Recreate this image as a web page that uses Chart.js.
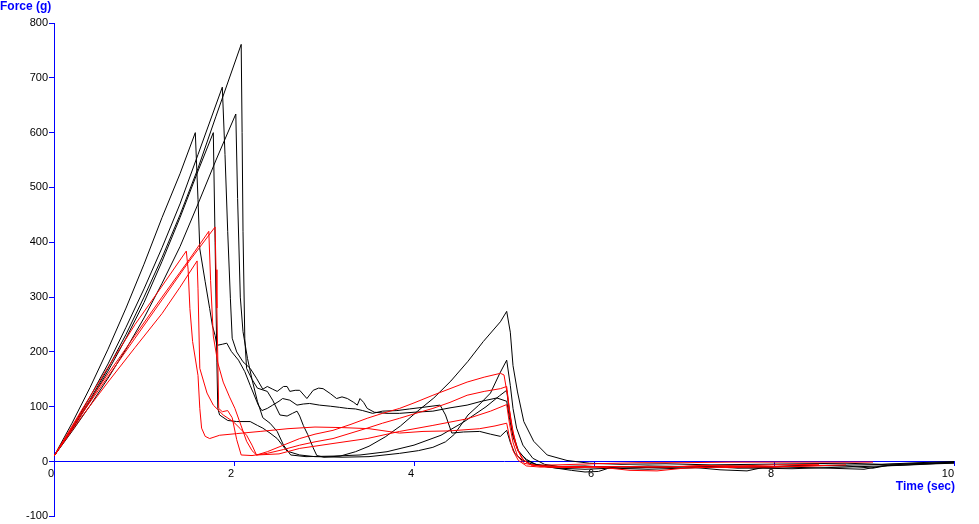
<!DOCTYPE html>
<html>
<head>
<meta charset="utf-8">
<script src="https://cdn.jsdelivr.net/npm/chart.js@4.4.0/dist/chart.umd.min.js"></script>
<style>
    html, body { margin: 0; padding: 0; background: #fff; }
    #wrap { width: 979px; height: 524px; position: relative; }
</style>
</head>
<body>
<div id="wrap"><canvas id="forceChart" width="979" height="524"></canvas></div>
<script>
// each run: [time (sec), force (g)]
// black runs
const runB1 = [[0,10],[0.2,70],[0.4,135],[0.6,205],[0.8,280],[1.0,360],[1.2,445],[1.4,525],[1.57,600],
    [1.6,478],[1.62,388],[1.68,328],[1.73,279],[1.76,248],[1.79,230],[1.81,212],[1.87,214],[1.92,216],[1.97,201],[2.05,185],[2.12,164],[2.18,139],[2.27,103],[2.31,93],[2.37,97],[2.43,103],[2.5,110],[2.54,115],[2.62,112],[2.7,103],[2.77,105],[2.84,106],[2.95,103],[3.07,101],[3.17,99],[3.26,97],[3.35,96],[3.43,93],[3.54,88],[3.65,92],[3.81,93],[3.95,96],[4.1,99],[4.29,103],[4.35,85],[4.42,52],[4.55,54],[4.73,55],[4.85,50],[4.96,46],[5.03,57],
    [5.07,35],[5.12,15],[5.2,3],[5.3,-4],[5.5,-8],[5.8,-10],[6.2,-9],[6.6,-11],[7.0,-10],[7.5,-8],[8.0,-9],[8.5,-7],[9.0,-6],[9.5,-4],[10,-2]];
const runB2 = [[0,10],[0.2,62],[0.4,118],[0.6,178],[0.8,245],[1.0,315],[1.2,390],[1.4,470],[1.6,560],[1.87,683],
    [1.9,560],[1.93,420],[1.96,297],[1.98,225],[2.03,200],[2.1,182],[2.18,170],[2.25,152],[2.32,132],[2.37,137],[2.43,132],[2.48,128],[2.55,137],[2.59,137],[2.62,128],[2.68,130],[2.73,130],[2.81,115],[2.88,130],[2.94,134],[2.99,133],[3.07,124],[3.14,115],[3.2,118],[3.26,115],[3.33,108],[3.37,103],[3.4,115],[3.44,108],[3.48,97],[3.56,90],[3.7,88],[3.84,88],[4.0,90],[4.21,92],[4.4,98],[4.59,103],[4.75,110],[4.92,116],[5.03,110],
    [5.06,80],[5.1,45],[5.16,18],[5.25,4],[5.35,-5],[5.5,-10],[5.75,-16],[5.9,-19],[6.05,-18],[6.2,-10],[6.6,-8],[7.0,-9],[7.4,-15],[7.7,-17],[7.9,-10],[8.3,-7],[8.8,-8],[9.1,-12],[9.3,-6],[9.7,-3],[10,-1]];
const runB3 = [[0,10],[0.2,58],[0.4,110],[0.6,165],[0.8,225],[1.0,290],[1.2,365],[1.4,445],[1.6,530],[1.77,600],
    [1.79,400],[1.81,180],[1.82,97],[1.84,85],[1.93,75],[2.03,73],[2.18,73],[2.26,66],[2.32,61],[2.4,52],[2.48,42],[2.59,19],[2.73,12],[2.9,9],[3.2,8],[3.5,9],[3.84,15],[4.05,20],[4.21,26],[4.35,36],[4.45,50],[4.6,85],[4.72,103],[4.85,125],[4.95,160],[5.03,185],
    [5.07,139],[5.1,97],[5.14,61],[5.21,30],[5.32,6],[5.45,-5],[5.6,-9],[5.9,-8],[6.3,-12],[6.8,-10],[7.2,-8],[7.6,-12],[8.1,-10],[8.6,-12],[9.0,-14],[9.2,-8],[9.6,-5],[10,-2]];
const runB4 = [[0,10],[0.2,60],[0.4,113],[0.6,170],[0.8,232],[1.0,300],[1.2,372],[1.4,450],[1.6,535],[1.8,630],[2.08,761],
    [2.09,600],[2.1,420],[2.12,224],[2.14,170],[2.2,150],[2.26,134],[2.37,128],[2.43,112],[2.51,85],[2.59,83],[2.65,88],[2.7,92],[2.73,83],[2.77,66],[2.82,49],[2.88,25],[2.92,11],[3.0,8],[3.18,10],[3.35,18],[3.5,28],[3.68,45],[3.85,65],[4.04,92],[4.22,116],[4.41,147],[4.6,183],[4.77,219],[4.96,255],[5.03,274],
    [5.07,236],[5.1,175],[5.15,127],[5.22,73],[5.33,37],[5.48,12],[5.7,2],[5.95,-3],[6.3,-5],[6.8,-4],[7.3,-6],[7.8,-5],[8.3,-4],[8.8,-3],[9.2,-5],[9.6,-2],[10,0]];
const runB5 = [[0,10],[0.2,55],[0.4,102],[0.6,152],[0.8,205],[1.0,262],[1.2,325],[1.4,392],[1.6,470],[1.8,550],[2.02,634],
    [2.04,480],[2.07,300],[2.1,237],[2.15,188],[2.2,150],[2.26,110],[2.32,80],[2.4,70],[2.48,55],[2.55,30],[2.63,12],[2.8,9],[3.1,10],[3.4,12],[3.7,18],[4.0,30],[4.3,48],[4.55,72],[4.8,100],[4.95,120],[5.03,130],
    [5.06,90],[5.1,50],[5.16,20],[5.25,2],[5.4,-8],[5.6,-12],[5.9,-14],[6.2,-12],[6.6,-14],[7.0,-12],[7.4,-10],[7.8,-12],[8.2,-13],[8.6,-11],[9.0,-9],[9.4,-7],[9.8,-4],[10,-3]];

// red runs
const runR1 = [[0,10],[0.3,85],[0.6,155],[0.9,225],[1.2,295],[1.5,365],[1.79,428],
    [1.8,350],[1.81,280],[1.83,97],[1.87,91],[1.93,93],[1.98,80],[2.03,40],[2.08,12],[2.2,11],[2.37,15],[2.55,22],[2.73,30],[2.9,36],[3.1,42],[3.3,52],[3.48,61],[3.65,70],[3.84,79],[4.0,87],[4.21,97],[4.4,108],[4.59,121],[4.78,128],[4.96,133],[5.03,137],
    [5.06,95],[5.1,55],[5.15,22],[5.22,2],[5.3,-6],[5.45,-9],[5.7,-9],[6.0,-10],[6.4,-9],[6.8,-10],[7.2,-7],[7.6,-8],[8.0,-6],[8.5,-5]];
const runR2 = [[0,10],[0.3,88],[0.6,160],[0.9,230],[1.2,300],[1.5,368],[1.72,420],
    [1.74,330],[1.77,229],[1.82,180],[1.88,145],[1.95,118],[2.01,97],[2.08,65],[2.14,37],[2.2,20],[2.25,12],[2.37,18],[2.55,30],[2.73,42],[2.9,50],[3.1,57],[3.3,68],[3.48,79],[3.65,88],[3.84,97],[4.0,107],[4.21,121],[4.4,133],[4.59,145],[4.78,154],[4.96,161],[5.0,158],
    [5.04,120],[5.08,70],[5.13,30],[5.2,5],[5.3,-6],[5.5,-10],[5.8,-11],[6.2,-9],[6.6,-10],[7.0,-9],[7.5,-11],[8.0,-9],[8.4,-8],[8.8,-6]];
const runR3 = [[0,10],[0.3,92],[0.6,172],[0.9,250],[1.2,320],[1.47,384],
    [1.49,351],[1.51,279],[1.54,219],[1.6,157],[1.62,97],[1.64,61],[1.68,46],[1.73,42],[1.84,48],[2.03,51],[2.29,55],[2.6,60],[2.9,63],[3.2,62],[3.5,60],[3.84,52],[4.1,55],[4.4,56],[4.73,60],[4.9,65],[5.03,70],
    [5.06,45],[5.1,20],[5.16,2],[5.25,-8],[5.4,-10],[5.7,-10],[6.0,-9],[6.4,-16],[6.7,-17],[7.0,-12],[7.5,-9],[8.0,-10],[8.6,-7]];
const runR4 = [[0,10],[0.3,80],[0.6,145],[0.9,208],[1.2,270],[1.4,318],[1.59,366],
    [1.6,315],[1.62,170],[1.7,125],[1.77,103],[1.88,85],[1.99,73],[2.07,60],[2.14,48],[2.2,30],[2.25,12],[2.5,14],[2.73,24],[3.1,33],[3.48,42],[3.84,55],[4.21,66],[4.59,78],[4.85,92],[5.03,104],
    [5.06,70],[5.1,35],[5.15,10],[5.22,-3],[5.35,-7],[5.6,-6],[6.0,-4],[6.5,-2],[7.0,-2],[7.5,-1],[8.0,-1],[8.5,-1],[9.1,-1]];

const redRuns = [runR1, runR2, runR3, runR4];
const blackRuns = [runB1, runB2, runB3, runB4, runB5];

// axis setup
const timeMin = 0, timeMax = 10, timeStep = 2;
const forceMin = -100, forceMax = 800, forceStep = 100;

// turn [t, f] pairs into chart points
function toPoints(run) {
    return run.map(function (p) { return { x: p[0], y: p[1] }; });
}

function makeDataset(run, colour) {
    return {
        data: toPoints(run),
        showLine: true,
        borderColor: colour,
        borderWidth: 1,
        pointRadius: 0,
        fill: false,
        tension: 0
    };
}

// red first so it sits on top
var datasets = [];
redRuns.forEach(function (r) { datasets.push(makeDataset(r, '#ff0000')); });
blackRuns.forEach(function (r) { datasets.push(makeDataset(r, '#000000')); });

// axis titles in the corners
const axisTitles = {
    id: 'axisTitles',
    afterDraw: function (chart) {
        const c = chart.ctx;
        c.save();
        c.fillStyle = '#0000ff';
        c.font = 'bold 12px "Liberation Sans", Arial, sans-serif';
        c.textBaseline = 'top';
        c.textAlign = 'left';
        c.fillText('Force (g)', 0, 1);
        c.textAlign = 'right';
        c.fillText('Time (sec)', 955, 481);
        c.restore();
    }
};

const tickFont = { family: '"Liberation Sans", Arial, sans-serif', size: 11 };

const ctx = document.getElementById('forceChart');
new Chart(ctx, {
    type: 'scatter',
    data: { datasets: datasets },
    options: {
        responsive: false,
        animation: false,
        layout: { padding: { top: 23, right: 25, bottom: 6, left: 0 } },
        plugins: {
            legend: { display: false },
            tooltip: { enabled: false }
        },
        scales: {
            x: {
                type: 'linear',
                position: { y: 0 },
                min: timeMin,
                max: timeMax,
                ticks: { stepSize: timeStep, align: 'end', color: '#000', font: tickFont, padding: 2, maxRotation: 0 },
                grid: { drawOnChartArea: false, color: '#0000ff', tickLength: 4 },
                border: { color: '#0000ff', width: 1 }
            },
            y: {
                type: 'linear',
                position: 'left',
                min: forceMin,
                max: forceMax,
                ticks: { stepSize: forceStep, color: '#000', font: tickFont, padding: 1 },
                grid: { drawOnChartArea: false, color: '#0000ff', tickLength: 5 },
                border: { color: '#0000ff', width: 1 },
                afterFit: function (scale) { scale.width = 54; }
            }
        }
    },
    plugins: [axisTitles]
});
</script>
</body>
</html>
